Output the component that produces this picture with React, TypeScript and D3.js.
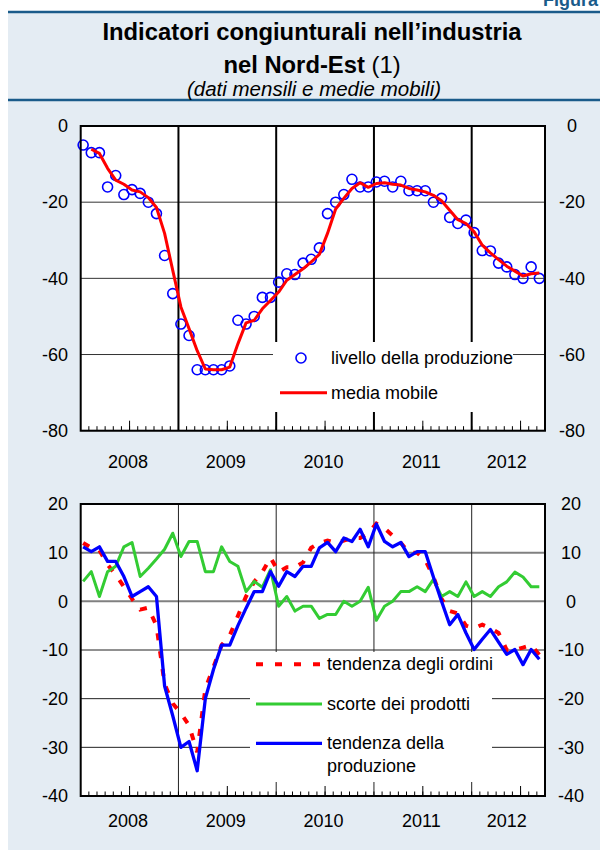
import React from 'react';
import { scaleLinear, line, range } from 'd3';

// monthly data, Jan 2008 - Sep 2012
const years = ['2008', '2009', '2010', '2011', '2012'];

const livello = [
  -5, -7, -7, -16, -13, -18, -16.7, -17.7, -20, -23, -34, -44,
  -52, -55, -64, -64, -64, -64, -63, -51, -52, -50, -45, -45,
  -41, -38.8, -39, -36, -35, -32, -23, -20, -18, -14, -16, -16,
  -14.7, -14.5, -16, -14.5, -17, -17, -17, -20, -19, -24, -25.6, -24.7,
  -28, -32.7, -32.8, -36, -37, -39, -40, -37, -40,
];

const mediaMobile = [
  null, -6.1, -7.2, -11.1, -14.2, -15.3, -16.8, -17.3, -18.8, -21.4, -28.2, -37.9,
  -47.5, -53.2, -59, -63.8, -64, -64, -63.3, -57.2, -51.7, -51, -48, -45.8,
  -43.6, -40.5, -39, -37.5, -35.7, -33.7, -28.2, -21.8, -19, -16.4, -14.9, -16.1,
  -15.1, -14.9, -15.3, -15.5, -16.4, -16.8, -17.3, -18.2, -19.6, -22.1, -24.6, -25.6,
  -27.8, -31.3, -33.3, -35.1, -36.8, -38.1, -39.4, -38.8, -38.6,
];

const ordini = [
  12, 11, 10.5, 7.5, 5.5, 3, 0.5, -1.7, -1.3, -5, -17, -21,
  -23, -25.5, -31, -18, -13.5, -9, -7, -3, 1, 4, 6, 9,
  6, 7, 7, 8, 11, 12, 12.5, 12, 12.5, 13, 13, 14,
  16, 15, 13.5, 12, 10, 10, 8.5, 5, 0.5, -2, -2.5, -5,
  -5.5, -4.8, -5.5, -6.5, -10, -10, -9.5, -9, -11,
];

const scorte = [
  4.1, 6.1, 1, 6.1, 7.2, 11.2, 12.1, 5.1, 6.8, 8.7, 10.7, 14,
  9.2, 12.3, 12.3, 6.1, 6.1, 11.2, 8.2, 7.2, 2, 4.1, 2.9, 6.5,
  -1, 1, -2, -1, -1, -3.5, -2.7, -2.7, 0, -1, 0, 2.9,
  -3.9, -1, 0, 2, 2, 3, 2, 4.5, 1, 2, 1, 4,
  1, 2, 1, 3, 4, 6, 5, 3, 3,
];

const produzione = [
  11.2, 10.2, 11.2, 8.2, 8.2, 5.1, 1, 2, 3, 1, -17.4, -23.5,
  -30, -28.8, -34.8, -20, -14, -9, -9, -5, -1.4, 2, 2, 6.1,
  3.1, 6.1, 5.1, 7.2, 7.2, 11, 12.1, 10.2, 13, 12.3, 14.8, 11.2,
  15.9, 12.3, 11.2, 12.1, 9.2, 10.2, 10.2, 5, 0, -4.8, -2.7, -6.5,
  -9.9, -7.8, -5.8, -8.4, -10.9, -9.9, -13, -9.9, -11.9,
];

const topTicks = [-80, -60, -40, -20, 0];
const bottomTicks = [-40, -30, -20, -10, 0, 10, 20];

const FONT = '"Liberation Sans", Arial, sans-serif';
const BLUE_RULE = '#1a5b8a';

const App = () => {
  const n = livello.length;
  const left = 80.7;
  const right = 545;
  const x = scaleLinear().domain([0, n]).range([left, right]);
  const px = (i: number) => x(i + 0.3);

  const yTop = scaleLinear().domain([-80, 0]).range([430.7, 126]);
  const yBot = scaleLinear().domain([-40, 20]).range([796, 504]);

  const levelLine = line<number | null>()
    .defined(d => d != null)
    .x((_, i) => px(i))
    .y(d => yTop(d as number));
  const botLine = line<number>()
    .x((_, i) => px(i))
    .y(d => yBot(d));

  const yearStarts = range(12, n, 12);
  const midYears = range(6, n, 12);
  const monthTicks = range(1, n);
  const yearCenter = (k: number) => x((k * 12 + Math.min(n, k * 12 + 12)) / 2) - 1.5;

  const xAxisTicks = (y0: number) => (
    <g>
      {monthTicks.map(m => (
        <line key={m} x1={x(m)} x2={x(m)} y1={y0} y2={y0 - 4.5} stroke="#000" strokeWidth={1} />
      ))}
      {midYears.map(m => (
        <line key={'m' + m} x1={x(m)} x2={x(m)} y1={y0} y2={y0 - 10} stroke="#000" strokeWidth={1} />
      ))}
    </g>
  );

  return (
    <svg width={600} height={850} style={{ position: 'absolute', left: 0, top: 0 }} fontFamily={FONT}>
      <rect x={8} y={12} width={592} height={838} fill="#e4ecf3" />
      <line x1={8} x2={600} y1={12} y2={12} stroke={BLUE_RULE} strokeWidth={2.5} />
      <line x1={8} x2={600} y1={100} y2={100} stroke={BLUE_RULE} strokeWidth={2.5} />
      <text x={598} y={6} textAnchor="end" fontSize={18} fontWeight="bold" fill={BLUE_RULE}>Figura</text>

      <text x={312} y={40} textAnchor="middle" fontSize={23.8} fontWeight="bold">Indicatori congiunturali nell’industria</text>
      <text x={312} y={73} textAnchor="middle" fontSize={23.8}>
        <tspan fontWeight="bold">nel Nord-Est</tspan> (1)
      </text>
      <text x={314} y={96} textAnchor="middle" fontSize={20.5} fontStyle="italic">(dati mensili e medie mobili)</text>

      {/* top chart */}
      <rect x={left} y={yTop(0)} width={right - left} height={yTop(-80) - yTop(0)} fill="#fff" />
      {topTicks.map(t => (
        <line key={t} x1={left} x2={right} y1={yTop(t)} y2={yTop(t)} stroke="#333" strokeWidth={1} />
      ))}
      {yearStarts.map(m => (
        <line key={m} x1={x(m)} x2={x(m)} y1={yTop(0)} y2={yTop(-80)} stroke="#000" strokeWidth={2} />
      ))}
      {xAxisTicks(yTop(-80))}
      <rect x={273} y={342} width={240} height={70} fill="#fff" />
      {livello.map((v, i) => (
        <circle key={i} cx={px(i)} cy={yTop(v)} r={5} fill="none" stroke="#0000ff" strokeWidth={1.6} />
      ))}
      <path d={levelLine(mediaMobile) || ''} fill="none" stroke="#ff0000" strokeWidth={3} strokeLinejoin="round" />
      <rect x={left} y={yTop(0)} width={right - left} height={yTop(-80) - yTop(0)} fill="none" stroke="#000" strokeWidth={2} />
      {topTicks.map(t => (
        <g key={t} fontSize={18}>
          <text x={68} y={yTop(t)} dy="0.35em" textAnchor="end">{t}</text>
          <text x={572} y={yTop(t)} dy="0.35em" textAnchor="middle">{t}</text>
        </g>
      ))}
      {years.map((yr, k) => (
        <text key={yr} x={yearCenter(k)} y={468} textAnchor="middle" fontSize={18}>{yr}</text>
      ))}
      <circle cx={301} cy={358} r={5} fill="none" stroke="#0000ff" strokeWidth={1.6} />
      <text x={331} y={364} fontSize={18}>livello della produzione</text>
      <line x1={280} x2={327} y1={392.7} y2={392.7} stroke="#ff0000" strokeWidth={3} />
      <text x={331} y={399} fontSize={18}>media mobile</text>

      {/* bottom chart */}
      <rect x={left} y={yBot(20)} width={right - left} height={yBot(-40) - yBot(20)} fill="#fff" />
      {bottomTicks.map(t => (
        <line key={t} x1={left} x2={right} y1={yBot(t)} y2={yBot(t)}
          stroke={t >= 0 ? '#808080' : '#222'} strokeWidth={t >= 0 && t < 20 ? 2 : 1} />
      ))}
      {yearStarts.map(m => (
        <line key={m} x1={x(m)} x2={x(m)} y1={yBot(20)} y2={yBot(-40)} stroke="#222" strokeWidth={1} />
      ))}
      {xAxisTicks(yBot(-40))}
      <rect x={250} y={652} width={242} height={130} fill="#fff" />
      <path d={botLine(ordini) || ''} fill="none" stroke="#ff0000" strokeWidth={4} strokeDasharray="7,11" />
      <path d={botLine(scorte) || ''} fill="none" stroke="#33cc33" strokeWidth={3} strokeLinejoin="round" />
      <path d={botLine(produzione) || ''} fill="none" stroke="#0000ff" strokeWidth={3.3} strokeLinejoin="round" />
      <rect x={left} y={yBot(20)} width={right - left} height={yBot(-40) - yBot(20)} fill="none" stroke="#000" strokeWidth={2} />
      {bottomTicks.map(t => (
        <g key={t} fontSize={18}>
          <text x={68} y={yBot(t)} dy="0.35em" textAnchor="end">{t}</text>
          <text x={571} y={yBot(t)} dy="0.35em" textAnchor="middle">{t}</text>
        </g>
      ))}
      {years.map((yr, k) => (
        <text key={yr} x={yearCenter(k)} y={827} textAnchor="middle" fontSize={18}>{yr}</text>
      ))}
      <line x1={256} x2={322} y1={664.3} y2={664.3} stroke="#ff0000" strokeWidth={4} strokeDasharray="7,12" />
      <text x={327} y={670} fontSize={18}>tendenza degli ordini</text>
      <line x1={256} x2={322} y1={704} y2={704} stroke="#33cc33" strokeWidth={3} />
      <text x={327} y={710} fontSize={18}>scorte dei prodotti</text>
      <line x1={256} x2={322} y1={743.3} y2={743.3} stroke="#0000ff" strokeWidth={3.3} />
      <text x={327} y={749} fontSize={18}>tendenza della</text>
      <text x={327} y={772} fontSize={18}>produzione</text>
    </svg>
  );
};

export default App;
